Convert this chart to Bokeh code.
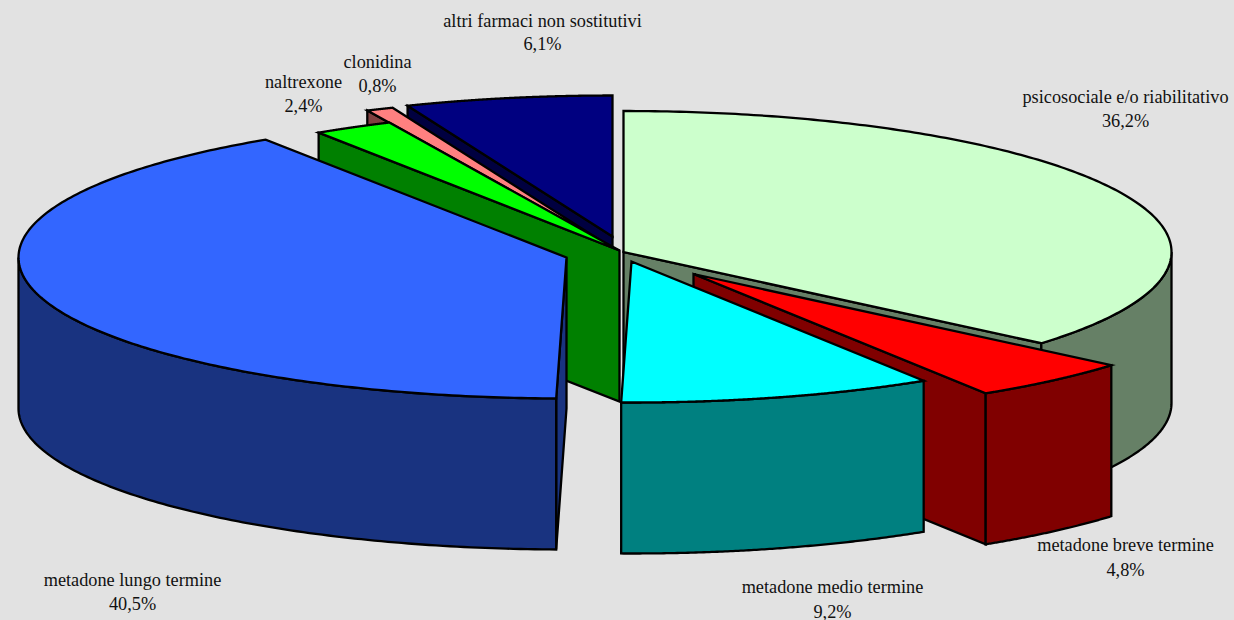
import numpy as np
from bokeh.plotting import figure
from bokeh.models import Range1d
from bokeh.core.properties import value
from bokeh.embed import file_html
from bokeh.resources import INLINE

# data, clockwise from 12 o'clock
categories = ["psicosociale e/o riabilitativo", "metadone breve termine",
              "metadone medio termine", "metadone lungo termine",
              "naltrexone", "clonidina", "altri farmaci non sostitutivi"]
percent = [36.2, 4.85, 9.25, 40.45, 2.35, 0.8, 6.1]
percent_labels = ["36,2%", "4,8%", "9,2%", "40,5%", "2,4%", "0,8%", "6,1%"]

# styles
top_colors = ["#CCFFCC", "#FF0000", "#00FFFF", "#3366FF", "#00FF00", "#FF8080", "#000080"]
side_colors = ["#668066", "#800000", "#008080", "#193380", "#008000", "#804040", "#000040"]
BG = "#E2E2E2"

# pie geometry: ellipse radii, thickness, per-slice explosion centre
RX, RY, DEPTH = 548, 141, 151
center_x = [623, 693, 631, 566, 619, 597, 612]
center_y = [251.5, 273.5, 261, 257, 250, 238, 236]
# painter's order, back to front
draw_order = [6, 5, 4, 0, 1, 2, 3]

# label placement
label_x = [1125, 1125, 832, 132, 303, 377, 542]
label_y1 = [96, 544, 586, 579, 81, 61, 20]
label_y2 = [120, 569, 611, 603, 105, 85, 43]

p = figure(width=1234, height=620, output_backend="svg", toolbar_location=None,
           x_range=Range1d(0, 1234), y_range=Range1d(620, 0), min_border=0,
           background_fill_color=BG, border_fill_color=BG, outline_line_color=None)
p.axis.visible = False
p.grid.visible = False
p.styles = {"position": "fixed", "left": "0", "top": "0", "background-color": BG}

edges = np.concatenate([[0], np.cumsum(percent)]) / np.sum(percent) * 2 * np.pi


def pt(i, a):
    return center_x[i] + RX * np.sin(a), center_y[i] - RY * np.cos(a)


def face(xs, ys, color):
    p.patch(list(xs), list(ys), fill_color=color, line_color="black",
            line_width=2.3, line_join="miter")


for i in draw_order:
    a0, a1 = edges[i], edges[i + 1]
    cx, cy = center_x[i], center_y[i]
    # end radial face
    if a1 < np.pi:
        x, y = pt(i, a1)
        face([cx, x, x, cx], [cy, y, y + DEPTH, cy + DEPTH], side_colors[i])
    # start radial face
    if a0 > np.pi:
        x, y = pt(i, a0)
        face([cx, x, x, cx], [cy, y, y + DEPTH, cy + DEPTH], side_colors[i])
    # outer wall: only the front half of the rim
    w0, w1 = max(a0, np.pi / 2), min(a1, 3 * np.pi / 2)
    if w1 > w0:
        t = np.linspace(w0, w1, 120)
        x, y = pt(i, t)
        face(np.r_[x, x[::-1]], np.r_[y, y[::-1] + DEPTH], side_colors[i])
    # top
    t = np.linspace(a0, a1, 200)
    x, y = pt(i, t)
    face(np.r_[cx, x], np.r_[cy, y], top_colors[i])

font = dict(text_font=value("Liberation Serif"), text_font_size="18.3px",
            text_color="#111111", text_align="center", text_baseline="middle")
p.text(x=label_x, y=label_y1, text=categories, **font)
p.text(x=label_x, y=label_y2, text=percent_labels, **font)

open("out.html", "w").write(file_html(p, INLINE))
